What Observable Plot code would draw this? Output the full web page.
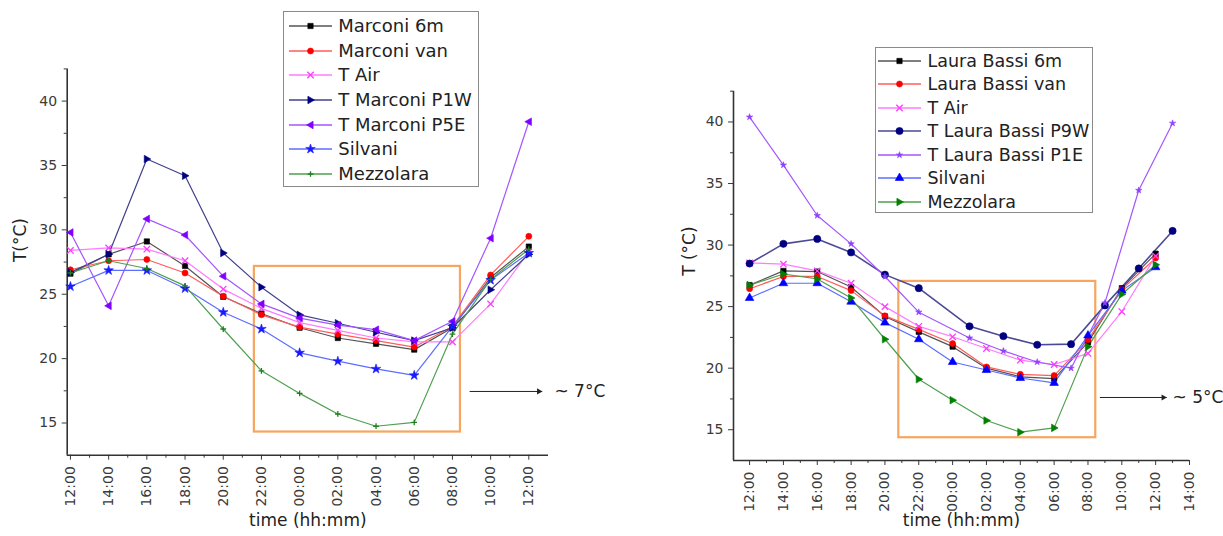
<!DOCTYPE html>
<html><head><meta charset="utf-8">
<script src="https://cdn.jsdelivr.net/npm/d3@7"></script>
<script src="https://cdn.jsdelivr.net/npm/@observablehq/plot@0.6"></script>
<style>
body{margin:0;background:#fff;}
#wrap{position:relative;width:1223px;height:536px;overflow:hidden;font-family:"DejaVu Sans",sans-serif;background:#fff;}
.panel{position:absolute;top:0;}
.legend{position:absolute;background:#fff;border:1.5px solid #8a8a8a;box-sizing:border-box;}
.legend .row{position:absolute;left:0;height:22px;display:flex;align-items:center;white-space:nowrap;color:#222;}
.legend svg{position:absolute;left:0;top:0;overflow:visible;}
.legend span{position:absolute;top:0;line-height:22px;}
</style></head><body><div id="wrap"></div>
<script>
// ---------- data ----------
const hours = [0, 2, 4, 6, 8, 10, 12, 14, 16, 18, 20, 22, 24];
const hoursT = [0, 2, 4, 6, 8, 10, 13, 15, 17, 19, 21, 23, 25];
const xTicksL = [0, 2, 4, 6, 8, 10, 12, 14, 16, 18, 20, 22, 24];
const xLabelsL = ["12:00","14:00","16:00","18:00","20:00","22:00","00:00","02:00","04:00","06:00","08:00","10:00","12:00"];
const xMinorL = [1, 3, 5, 7, 9, 11, 13, 15, 17, 19, 21, 23];
const xTicksR = [0, 2, 4, 6, 8, 10, 12, 14, 16, 18, 20, 22, 24, 26];
const xLabelsR = ["12:00","14:00","16:00","18:00","20:00","22:00","00:00","02:00","04:00","06:00","08:00","10:00","12:00","14:00"];
const xMinorR = [1, 3, 5, 7, 9, 11, 13, 15, 17, 19, 21, 23, 25];
const yMajor = [15, 20, 25, 30, 35, 40];
const yMinor = [17.5, 22.5, 27.5, 32.5, 37.5, 42.5];

// left panel (Marconi)
const marconi6m  = [26.6, 28.1, 29.1, 27.2, 24.8, 23.5, 22.4, 21.6, 21.15, 20.7, 22.4, 26.3, 28.7];
const marconiVan = [26.9, 27.6, 27.7, 26.65, 24.85, 23.4, 22.45, 21.9, 21.4, 20.9, 22.5, 26.5, 29.5];
const tAirL      = [28.4, 28.6, 28.5, 27.6, 25.4, 23.9, 22.8, 22.2, 21.6, 21.3, 21.3, 24.25, 28.3];
const marconiP1W = [26.7, 28.1, 35.5, 34.2, 28.2, 25.55, 23.4, 22.75, 22.05, 21.4, 22.4, 25.35, 28.1];
const marconiP5E = [29.8, 24.1, 30.85, 29.6, 26.4, 24.25, 23.15, 22.6, 22.25, 21.4, 22.9, 29.35, 38.4];
const silvaniL   = [25.6, 26.85, 26.85, 25.45, 23.6, 22.3, 20.45, 19.8, 19.2, 18.7, 22.5, 26.1, 28.2];
const mezzolaraL = [26.65, 27.6, 27.0, 25.65, 22.3, 19.05, 17.3, 15.7, 14.75, 15.05, 21.9, 26.15, 28.5];

// right panel (Laura Bassi)
const lb6m       = [26.75, 27.9, 27.85, 26.6, 24.2, 22.95, 21.75, 20.0, 19.3, 19.15, 22.1, 26.5, 29.3];
const lbVan      = [26.45, 27.45, 27.45, 26.3, 24.25, 23.15, 22.0, 20.1, 19.5, 19.4, 22.3, 26.4, 28.95];
const tAirR      = [28.55, 28.45, 27.9, 26.9, 25.0, 23.4, 22.55, 21.6, 20.65, 20.3, 21.2, 24.6, 29.1];
const lbP9W      = [28.5, 30.1, 30.5, 29.4, 27.6, 26.5, 23.4, 22.6, 21.9, 21.95, 25.1, 28.1, 31.15];
const lbP1E      = [40.4, 36.5, 32.4, 30.1, 27.45, 24.55, 22.45, 21.4, 20.5, 20.0, 25.3, 34.45, 39.9];
const silvaniR   = [25.7, 26.9, 26.9, 25.4, 23.7, 22.35, 20.5, 19.85, 19.2, 18.8, 22.65, 26.3, 28.2];
const mezzolaraR = [26.75, 27.65, 27.25, 25.7, 22.35, 19.1, 17.4, 15.75, 14.8, 15.15, 21.75, 26.0, 28.4];

// annotations (data units)
const boxL = [{x1: 9.63, x2: 20.42, y1: 14.3, y2: 27.16}];
const arrowL = [{x1: 20.9, x2: 24.7, y: 17.45}];
const noteL = [{x: 25.34, y: 17.45, t: "~ 7°C"}];
const boxR = [{x1: 8.82, x2: 20.46, y1: 14.35, y2: 27.05}];
const arrowR = [{x1: 20.7, x2: 24.65, y: 17.62}];
const noteR = [{x: 25.0, y: 17.62, t: "~ 5°C"}];

// ---------- symbols ----------
const triRight = {draw(ctx, size){const r = Math.sqrt(size/Math.PI)*1.25; ctx.moveTo(r,0); ctx.lineTo(-r*0.65,-r*0.95); ctx.lineTo(-r*0.65,r*0.95); ctx.closePath();}};
const triLeft = {draw(ctx, size){const r = Math.sqrt(size/Math.PI)*1.25; ctx.moveTo(-r,0); ctx.lineTo(r*0.65,-r*0.95); ctx.lineTo(r*0.65,r*0.95); ctx.closePath();}};

const seriesL = [
  {name:"Marconi 6m", x:hours, y:marconi6m, line:"#555555", fill:"#000000", stroke:"#000000", sym:d3.symbolSquare, r:3},
  {name:"Marconi van", x:hours, y:marconiVan, line:"#ff5c5c", fill:"#ff0000", stroke:"#ff0000", sym:d3.symbolCircle, r:3},
  {name:"T Air", x:hours, y:tAirL, line:"#ff7bff", fill:"none", stroke:"#ff3cff", sym:d3.symbolTimes, r:3},
  {name:"T Marconi P1W", x:hours, y:marconiP1W, line:"#40408e", fill:"#000080", stroke:"#000080", sym:triRight, r:3.2},
  {name:"T Marconi P5E", x:hours, y:marconiP5E, line:"#a455ff", fill:"#8000ff", stroke:"#8000ff", sym:triLeft, r:3.2},
  {name:"Silvani", x:hours, y:silvaniL, line:"#5d6dff", fill:"#1a1aff", stroke:"#1a1aff", sym:d3.symbolStar, r:3},
  {name:"Mezzolara", x:hours, y:mezzolaraL, line:"#4f9f4f", fill:"none", stroke:"#1f801f", sym:d3.symbolPlus, r:2}
];
const seriesR = [
  {name:"Laura Bassi 6m", x:hours, y:lb6m, line:"#555555", fill:"#000000", stroke:"#000000", sym:d3.symbolSquare, r:3},
  {name:"Laura Bassi van", x:hours, y:lbVan, line:"#ff5c5c", fill:"#ff0000", stroke:"#ff0000", sym:d3.symbolCircle, r:3},
  {name:"T Air", x:hours, y:tAirR, line:"#ff7bff", fill:"none", stroke:"#ff3cff", sym:d3.symbolTimes, r:3},
  {name:"T Laura Bassi P9W", x:hoursT, y:lbP9W, line:"#4a4a96", fill:"#000080", stroke:"#000080", sym:d3.symbolCircle, r:3.6, lw:1.6},
  {name:"T Laura Bassi P1E", x:hoursT, y:lbP1E, line:"#a455ff", fill:"#9040ff", stroke:"#9040ff", sym:d3.symbolStar, r:2},
  {name:"Silvani", x:hours, y:silvaniR, line:"#5d6dff", fill:"#0000ff", stroke:"#0000ff", sym:d3.symbolTriangle, r:3.2},
  {name:"Mezzolara", x:hours, y:mezzolaraR, line:"#4f9f4f", fill:"#008000", stroke:"#008000", sym:triRight, r:3.2}
];

function panel(o){
  const marks = [
    Plot.axisY({ticks:yMajor, anchor:"left", tickSize:5, tickPadding:5, fontSize:14, label:null, tickFormat:d=>String(d)}),
    Plot.axisY({ticks:yMinor, anchor:"left", tickSize:3, label:null, tickFormat:()=>""}),
    Plot.axisX({ticks:o.xTicks, anchor:"bottom", tickSize:5, tickPadding:6, tickRotate:-90, fontSize:14, label:null, tickFormat:d=>o.xLabels[o.xTicks.indexOf(d)]}),
    Plot.axisX({ticks:o.xMinor, anchor:"bottom", tickSize:3, label:null, tickFormat:()=>""}),
    Plot.ruleX([o.xDomain[0]], {stroke:"#333", strokeWidth:1.6}),
    Plot.ruleY([12.5], {stroke:"#333", strokeWidth:1.6}),
    Plot.rect(o.box, {x1:"x1", x2:"x2", y1:"y1", y2:"y2", fill:"none", stroke:"#f7a560", strokeWidth:2.2})
  ];
  for (const s of o.series) {
    const data = s.x.map((x,i)=>({x, y:s.y[i]}));
    marks.push(Plot.line(data, {x:"x", y:"y", stroke:s.line, strokeWidth:s.lw||1.2}));
  }
  for (const s of o.series) {
    const data = s.x.map((x,i)=>({x, y:s.y[i]}));
    marks.push(Plot.dot(data, {x:"x", y:"y", symbol:s.sym, r:s.r, fill:s.fill, stroke:s.stroke, strokeWidth:s.fill==="none"?1.3:0.6}));
  }
  marks.push(
    Plot.link(o.arrow, {x1:"x1", x2:"x2", y1:"y", y2:"y", stroke:"#222", strokeWidth:1}),
    Plot.dot(o.arrow, {x:"x2", y:"y", symbol:triRight, r:2.6, fill:"#222", dx:-3}),
    Plot.text(o.note, {x:"x", y:"y", text:"t", textAnchor:"start", fontSize:17, fill:"#222"}),
    Plot.text([o.ylab], {frameAnchor:"left", dx:o.ylabDx, rotate:-90, fontSize:17, fill:"#222"}),
    Plot.text([o.xlab], {frameAnchor:"bottom", dy:o.xlabDy, fontSize:17, fill:"#222"})
  );
  const p = Plot.plot({
    width:o.width, height:536,
    marginLeft:o.ml, marginRight:o.mr, marginTop:o.mt, marginBottom:o.mb,
    style:{fontFamily:"'DejaVu Sans', sans-serif", fontSize:"14px", color:"#3a3a3a", background:"transparent", overflow:"visible"},
    x:{domain:o.xDomain},
    y:{domain:[12.5, 42.5]},
    marks
  });
  p.classList.add("panel");
  p.style.left = o.left + "px";
  return p;
}

function legend(o){
  const div = document.createElement("div");
  div.className = "legend";
  Object.assign(div.style, {left:o.left+"px", top:o.top+"px", width:o.w+"px", height:o.h+"px", fontSize:o.fs+"px"});
  o.series.forEach((s,i)=>{
    const row = document.createElement("div");
    row.className = "row";
    row.style.top = (o.first + i*o.step - 11) + "px";
    row.style.width = (o.w - 4) + "px";
    const path = d3.symbol(s.sym, s.r*s.r*Math.PI)();
    const sf = s.fill==="none" ? 1.3 : 0.6;
    row.innerHTML = `<svg width="60" height="22"><line x1="${o.lx1}" x2="${o.lx2}" y1="11" y2="11" stroke="${s.line}" stroke-width="${s.lw||1.3}"/>`+
      `<path transform="translate(${(o.lx1+o.lx2)/2},11)" d="${path}" fill="${s.fill}" stroke="${s.stroke}" stroke-width="${sf}"/></svg>`+
      `<span style="left:${o.tx}px">${s.name}</span>`;
    div.appendChild(row);
  });
  return div;
}

const wrap = document.getElementById("wrap");
wrap.appendChild(panel({left:0, width:640, ml:66.7, mr:92, mt:68.4, mb:81.3, xDomain:[-0.17, 25.03],
  xTicks:xTicksL, xLabels:xLabelsL, xMinor:xMinorL, series:seriesL, box:boxL, arrow:arrowL, note:noteL,
  ylab:"T(°C)", ylabDx:-47, xlab:"time (hh:mm)", xlabDy:71}));
wrap.appendChild(panel({left:640, width:583, ml:93, mr:34, mt:90.7, mb:76, xDomain:[-0.95, 26.0],
  xTicks:xTicksR, xLabels:xLabelsR, xMinor:xMinorR, series:seriesR, box:boxR, arrow:arrowR, note:noteR,
  ylab:"T (°C)", ylabDx:-44, xlab:"time (hh:mm)", xlabDy:65}));
wrap.appendChild(legend({left:282.7, top:10.7, w:196, h:176, first:14.3, step:24.7, lx1:5, lx2:48, tx:54.6, fs:18, series:seriesL}));
wrap.appendChild(legend({left:875, top:46.7, w:218, h:166.6, first:13.3, step:23.45, lx1:2, lx2:45, tx:51.5, fs:17.5, series:seriesR}));
</script></body></html>
